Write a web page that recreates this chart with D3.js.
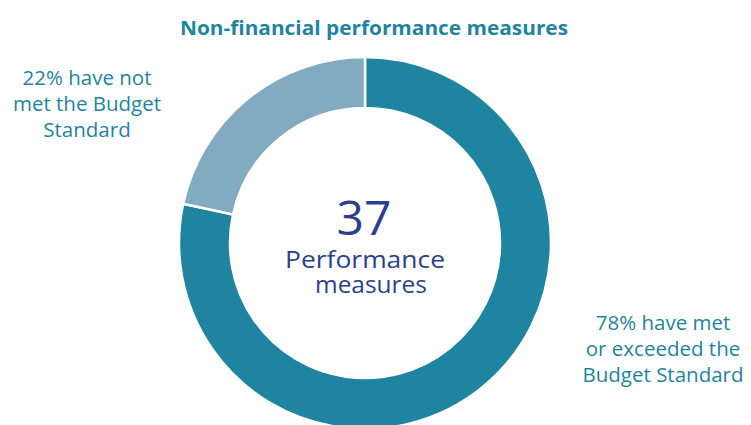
<!DOCTYPE html>
<html>
<head>
<meta charset="utf-8">
<script src="https://cdn.jsdelivr.net/npm/d3@7"></script>
<style>
  body { margin: 0; background: #fff; }
  svg { display: block; font-family: "Open Sans", sans-serif; }
</style>
</head>
<body>
<div id="chart"></div>
<script>
// data
const categories = ["met", "notMet"];
const counts = [29, 8];
const labelLines = [
  ["have met", "or exceeded the", "Budget Standard"],
  ["have not", "met the Budget", "Standard"]
];
const centreLines = ["Performance", "measures"];
const colors = ["#1f84a0", "#82aac1"];

const width = 751, height = 425;
const cx = 365, cy = 243;
const outerR = 186, innerR = 135;

const svg = d3.select("#chart").append("svg")
    .attr("width", width)
    .attr("height", height);

svg.append("text")
    .attr("x", 374).attr("y", 35)
    .attr("text-anchor", "middle")
    .attr("fill", "#1f84a0")
    .attr("font-weight", 700)
    .attr("font-size", 20)
    .attr("textLength", 388)
    .attr("lengthAdjust", "spacingAndGlyphs")
    .text("Non-financial performance measures");

const total = d3.sum(counts);
const data = categories.map((c, i) => ({key: c, value: counts[i], i: i}));

const pie = d3.pie().sort(null).value(d => d.value);
const arc = d3.arc().innerRadius(innerR).outerRadius(outerR);

const g = svg.append("g").attr("transform", `translate(${cx},${cy})`);
g.selectAll("path")
  .data(pie(data))
  .enter().append("path")
    .attr("d", arc)
    .attr("fill", d => colors[d.data.i])
    .attr("stroke", "#fff")
    .attr("stroke-width", 2.5);

// centre text, one element so the lines stay together
const centre = g.append("text")
    .attr("fill", "#2b3f8e")
    .attr("text-anchor", "middle");
centre.append("tspan").attr("x", -1).attr("y", -8)
    .attr("font-size", 48).text(total);
centre.append("tspan").attr("x", 0).attr("y", 25)
    .attr("font-size", 24).attr("textLength", 160).attr("lengthAdjust", "spacingAndGlyphs")
    .text(centreLines[0]);
centre.append("tspan").attr("x", 6).attr("y", 50)
    .attr("font-size", 24).attr("textLength", 112).attr("lengthAdjust", "spacingAndGlyphs")
    .text(centreLines[1]);

// side labels
const fmt = d3.format(".0%");
const labelPos = [{x: 663, y: 330}, {x: 87, y: 85}];
data.forEach((d, i) => {
  const lines = labelLines[i].slice();
  lines[0] = fmt(d.value / total) + " " + lines[0];
  const t = svg.append("text")
      .attr("text-anchor", "middle")
      .attr("fill", "#1f84a0")
      .attr("font-size", 20.5);
  lines.forEach((l, j) => {
    t.append("tspan")
      .attr("x", labelPos[i].x)
      .attr("y", labelPos[i].y + j * 26)
      .text(l);
  });
});
</script>
</body>
</html>
